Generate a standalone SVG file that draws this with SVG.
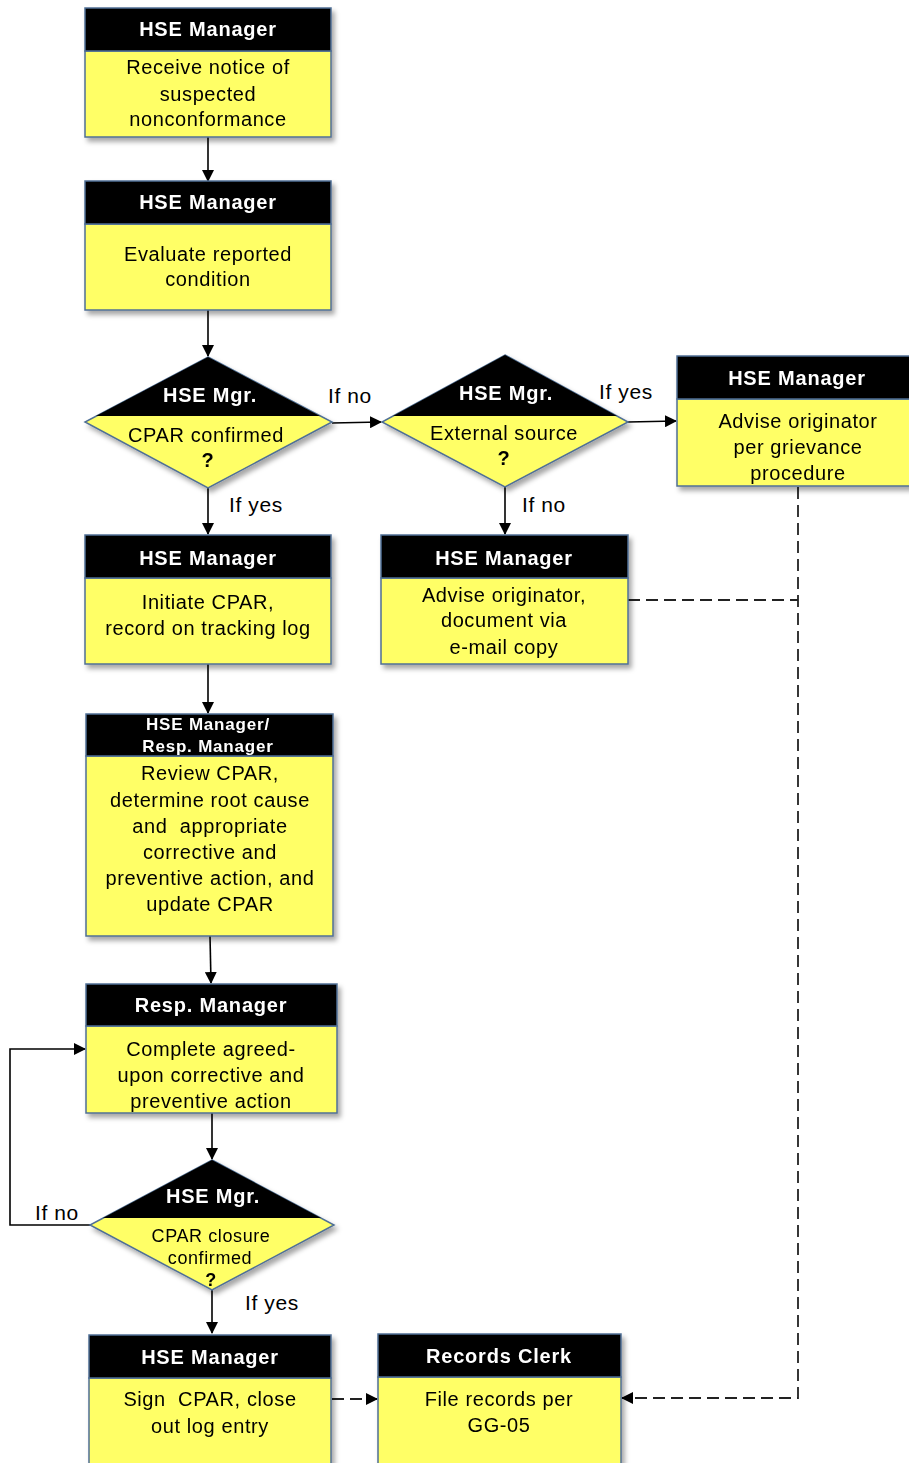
<svg xmlns="http://www.w3.org/2000/svg" width="909" height="1463" viewBox="0 0 909 1463">
<style>
.body{fill:#ffff66;stroke:#4f6f95;stroke-width:1.5}
.head{fill:#000;stroke:#4f6f95;stroke-width:1.5}
.ht{font-family:"Liberation Sans",Arial,sans-serif;font-weight:bold;font-size:20px;fill:#fff;text-anchor:middle;letter-spacing:0.8px}
.ht2{font-size:17px;letter-spacing:0.8px}
.bt{font-family:"Liberation Sans",Arial,sans-serif;font-size:20px;fill:#000;text-anchor:middle;letter-spacing:0.6px}
.bs{font-size:18px;letter-spacing:0.6px}
.q{font-weight:bold}
.lbl{font-family:"Liberation Sans",Arial,sans-serif;font-size:21px;fill:#000;letter-spacing:0.6px}
.ln{fill:none;stroke:#000;stroke-width:1.6}
.dash{fill:none;stroke:#222;stroke-width:1.8;stroke-dasharray:12,6}
</style>
<defs>
<filter id="sh" x="-10%" y="-10%" width="130%" height="130%">
<feDropShadow dx="3" dy="4" stdDeviation="2.5" flood-color="#000" flood-opacity="0.35"/>
</filter>
<marker id="ah" markerWidth="12" markerHeight="12" refX="11" refY="6" orient="auto" markerUnits="userSpaceOnUse">
<path d="M0,0 L12,6 L0,12 Z" fill="#000"/>
</marker>
</defs>

<g id="connectors">
<line class="ln" x1="208" y1="137" x2="208" y2="181" marker-end="url(#ah)"/>
<line class="ln" x1="208" y1="310" x2="208" y2="356" marker-end="url(#ah)"/>
<line class="ln" x1="332" y1="423" x2="381" y2="422" marker-end="url(#ah)"/>
<line class="ln" x1="628" y1="422" x2="676" y2="421" marker-end="url(#ah)"/>
<line class="ln" x1="208" y1="488" x2="208" y2="534" marker-end="url(#ah)"/>
<line class="ln" x1="505" y1="487" x2="505" y2="534" marker-end="url(#ah)"/>
<line class="ln" x1="208" y1="664" x2="208" y2="713" marker-end="url(#ah)"/>
<line class="ln" x1="210" y1="936" x2="211" y2="983" marker-end="url(#ah)"/>
<line class="ln" x1="212" y1="1113" x2="212" y2="1159" marker-end="url(#ah)"/>
<polyline class="ln" points="90,1225 10,1225 10,1049 85,1049" marker-end="url(#ah)"/>
<line class="ln" x1="212" y1="1290" x2="212" y2="1333" marker-end="url(#ah)"/>
<line class="dash" x1="332" y1="1399" x2="377" y2="1399" marker-end="url(#ah)"/>
<polyline class="dash" points="798,487 798,1398 622,1398" marker-end="url(#ah)"/>
<line class="dash" x1="628" y1="600" x2="798" y2="600"/>
<text class="lbl" x="328" y="403">If no</text>
<text class="lbl" x="599" y="399">If yes</text>
<text class="lbl" x="229" y="512">If yes</text>
<text class="lbl" x="522" y="512">If no</text>
<text class="lbl" x="35" y="1220">If no</text>
<text class="lbl" x="245" y="1310">If yes</text>
</g>

<g id="n1" filter="url(#sh)">
<rect class="body" x="85" y="51" width="246" height="86"/>
<rect class="head" x="85" y="8" width="246" height="43"/>
<text class="ht" x="208" y="36">HSE Manager</text>
<text class="bt" x="208" y="74">Receive notice of</text>
<text class="bt" x="208" y="101">suspected</text>
<text class="bt" x="208" y="126">nonconformance</text>
</g>

<g id="n2" filter="url(#sh)">
<rect class="body" x="85" y="224" width="246" height="86"/>
<rect class="head" x="85" y="181" width="246" height="43"/>
<text class="ht" x="208" y="209">HSE Manager</text>
<text class="bt" x="208" y="261">Evaluate reported</text>
<text class="bt" x="208" y="286">condition</text>
</g>

<g id="d1" filter="url(#sh)">
<polygon class="body" points="208,357 332,422 208,488 85,422"/>
<polygon fill="#000" points="208,357 320,416 96,416"/>
<text class="ht" x="210" y="402">HSE Mgr.</text>
<text class="bt" x="206" y="442">CPAR confirmed</text>
<text class="bt q" x="208" y="467">?</text>
</g>

<g id="d2" filter="url(#sh)">
<polygon class="body" points="505,355 628,422 505,487 382,422"/>
<polygon fill="#000" points="505,355 617,416 393,416"/>
<text class="ht" x="506" y="400">HSE Mgr.</text>
<text class="bt" x="504" y="440">External source</text>
<text class="bt q" x="504" y="465">?</text>
</g>

<g id="n3" filter="url(#sh)">
<rect class="body" x="677" y="399" width="240" height="87"/>
<rect class="head" x="677" y="356" width="240" height="43"/>
<text class="ht" x="797" y="385">HSE Manager</text>
<text class="bt" x="798" y="428">Advise originator</text>
<text class="bt" x="798" y="454">per grievance</text>
<text class="bt" x="798" y="480">procedure</text>
</g>

<g id="n4" filter="url(#sh)">
<rect class="body" x="85" y="578" width="246" height="86"/>
<rect class="head" x="85" y="535" width="246" height="43"/>
<text class="ht" x="208" y="565">HSE Manager</text>
<text class="bt" x="208" y="609">Initiate CPAR,</text>
<text class="bt" x="208" y="635">record on tracking log</text>
</g>

<g id="n5" filter="url(#sh)">
<rect class="body" x="381" y="578" width="247" height="86"/>
<rect class="head" x="381" y="535" width="247" height="43"/>
<text class="ht" x="504" y="565">HSE Manager</text>
<text class="bt" x="504" y="602">Advise originator,</text>
<text class="bt" x="504" y="627">document via</text>
<text class="bt" x="504" y="654">e-mail copy</text>
</g>

<g id="n6" filter="url(#sh)">
<rect class="body" x="86" y="756" width="247" height="180"/>
<rect class="head" x="86" y="714" width="247" height="42"/>
<text class="ht ht2" x="208" y="730">HSE Manager/</text>
<text class="ht ht2" x="208" y="752">Resp. Manager</text>
<text class="bt" x="210" y="780">Review CPAR,</text>
<text class="bt" x="210" y="807">determine root cause</text>
<text class="bt" x="210" y="833">and&#160; appropriate</text>
<text class="bt" x="210" y="859">corrective and</text>
<text class="bt" x="210" y="885">preventive action, and</text>
<text class="bt" x="210" y="911">update CPAR</text>
</g>

<g id="n7" filter="url(#sh)">
<rect class="body" x="86" y="1026" width="251" height="87"/>
<rect class="head" x="86" y="984" width="251" height="42"/>
<text class="ht" x="211" y="1012">Resp. Manager</text>
<text class="bt" x="211" y="1056">Complete agreed-</text>
<text class="bt" x="211" y="1082">upon corrective and</text>
<text class="bt" x="211" y="1108">preventive action</text>
</g>

<g id="d3" filter="url(#sh)">
<polygon class="body" points="212,1160 334,1225 212,1290 90,1225"/>
<polygon fill="#000" points="212,1160 321,1218 103,1218"/>
<text class="ht" x="213" y="1203">HSE Mgr.</text>
<text class="bt bs" x="211" y="1242">CPAR closure</text>
<text class="bt bs" x="210" y="1264">confirmed</text>
<text class="bt bs q" x="211" y="1286">?</text>
</g>

<g id="n8" filter="url(#sh)">
<rect class="body" x="89" y="1378" width="242" height="95"/>
<rect class="head" x="89" y="1335" width="242" height="43"/>
<text class="ht" x="210" y="1364">HSE Manager</text>
<text class="bt" x="210" y="1406">Sign&#160; CPAR, close</text>
<text class="bt" x="210" y="1433">out log entry</text>
</g>

<g id="n9" filter="url(#sh)">
<rect class="body" x="378" y="1377" width="243" height="96"/>
<rect class="head" x="378" y="1334" width="243" height="43"/>
<text class="ht" x="499" y="1363">Records Clerk</text>
<text class="bt" x="499" y="1406">File records per</text>
<text class="bt" x="499" y="1432">GG-05</text>
</g>
</svg>
